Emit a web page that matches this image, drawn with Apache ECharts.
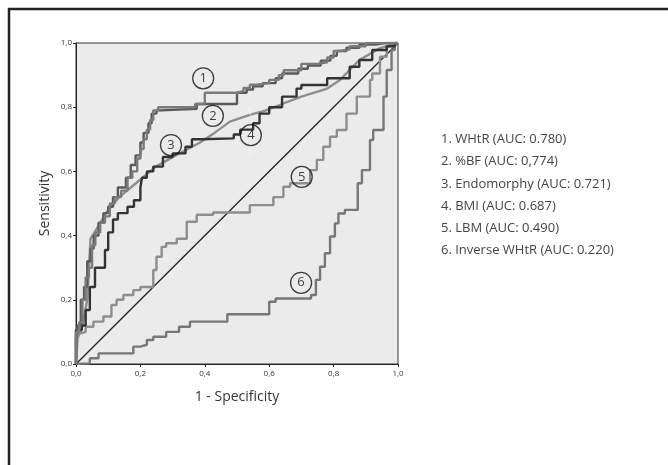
<!DOCTYPE html>
<html>
<head>
<meta charset="utf-8">
<style>
  html, body { margin: 0; padding: 0; background: #fff; }
  #chart { width: 668px; height: 465px; }
</style>
<script src="https://cdn.jsdelivr.net/npm/echarts@6/dist/echarts.min.js"></script>
</head>
<body>
<div id="chart"></div>
<script>
// ROC curves, [1 - specificity, sensitivity]
const whtr = [[0,0],[0.01,0.1],[0.02,0.13],[0.03,0.2],[0.04,0.27],[0.05,0.3],[0.06,0.37],[0.075,0.41],[0.09,0.44],[0.105,0.46],[0.12,0.5],[0.14,0.52],[0.16,0.54],[0.175,0.58],[0.19,0.6],[0.2,0.64],[0.21,0.67],[0.22,0.7],[0.23,0.73],[0.24,0.76],[0.255,0.79],[0.37,0.8],[0.4,0.81],[0.5,0.845],[0.52,0.85],[0.54,0.86],[0.56,0.87],[0.6,0.875],[0.63,0.885],[0.645,0.9],[0.7,0.915],[0.75,0.935],[0.78,0.94],[0.8,0.955],[0.82,0.975],[0.85,0.98],[0.9,0.99],[0.945,1],[1,1]]
const bodyFat = [[0,0],[0.005,0.08],[0.015,0.12],[0.025,0.2],[0.035,0.24],[0.045,0.32],[0.055,0.36],[0.07,0.4],[0.085,0.44],[0.1,0.47],[0.115,0.49],[0.13,0.52],[0.155,0.55],[0.17,0.58],[0.185,0.62],[0.2,0.65],[0.21,0.69],[0.225,0.72],[0.235,0.75],[0.25,0.78],[0.265,0.79],[0.375,0.795],[0.5,0.81],[0.53,0.845],[0.55,0.855],[0.58,0.865],[0.62,0.875],[0.64,0.89],[0.69,0.905],[0.72,0.92],[0.76,0.93],[0.79,0.945],[0.81,0.96],[0.84,0.975],[0.88,0.985],[0.93,0.995],[0.96,1],[1,1]]
const endomorphy = [[0,0],[0.005,0.08],[0.02,0.12],[0.035,0.2],[0.045,0.39],[0.07,0.43],[0.093,0.47],[0.134,0.52],[0.186,0.563],[0.248,0.615],[0.31,0.65],[0.385,0.69],[0.43,0.72],[0.478,0.755],[0.54,0.776],[0.59,0.79],[0.64,0.81],[0.7,0.833],[0.78,0.858],[0.82,0.885],[0.88,0.947],[0.944,0.984],[1,1]]
const bmi = [[0,0],[0.018,0.106],[0.03,0.12],[0.043,0.168],[0.059,0.24],[0.07,0.3],[0.09,0.3],[0.1,0.355],[0.115,0.41],[0.13,0.45],[0.16,0.47],[0.18,0.49],[0.2,0.51],[0.205,0.55],[0.22,0.58],[0.24,0.6],[0.27,0.615],[0.3,0.645],[0.34,0.656],[0.36,0.677],[0.39,0.7],[0.49,0.703],[0.51,0.715],[0.55,0.73],[0.57,0.75],[0.6,0.78],[0.64,0.8],[0.685,0.833],[0.7,0.858],[0.78,0.869],[0.85,0.89],[0.88,0.926],[0.92,0.947],[0.965,0.978],[0.99,0.99],[1,1]]
const lbm = [[0,0],[0.012,0.095],[0.03,0.1],[0.054,0.116],[0.085,0.132],[0.11,0.148],[0.126,0.184],[0.147,0.2],[0.178,0.215],[0.2,0.23],[0.24,0.24],[0.25,0.293],[0.266,0.334],[0.28,0.365],[0.313,0.376],[0.344,0.39],[0.375,0.443],[0.426,0.465],[0.54,0.472],[0.613,0.495],[0.644,0.52],[0.665,0.552],[0.727,0.563],[0.748,0.604],[0.768,0.636],[0.789,0.677],[0.81,0.708],[0.84,0.729],[0.872,0.78],[0.913,0.833],[0.92,0.885],[0.944,0.905],[0.965,0.957],[0.985,0.99],[1,1]]
const inverseWhtr = [[0,0],[0.043,0.002],[0.07,0.018],[0.178,0.033],[0.2,0.054],[0.22,0.06],[0.24,0.075],[0.28,0.085],[0.32,0.1],[0.354,0.116],[0.364,0.132],[0.47,0.132],[0.6,0.155],[0.62,0.194],[0.73,0.204],[0.745,0.215],[0.758,0.262],[0.773,0.303],[0.789,0.345],[0.804,0.397],[0.815,0.438],[0.835,0.469],[0.875,0.48],[0.888,0.563],[0.913,0.604],[0.923,0.698],[0.955,0.729],[0.965,0.833],[0.98,0.916],[0.99,0.978],[1,1]]
const reference = [[0,0],[1,1]]

// numbered markers on the curves
const markers = [[0.395,0.89,'1'],[0.425,0.773,'2'],[0.295,0.682,'3'],[0.543,0.713,'4'],[0.701,0.583,'5'],[0.699,0.253,'6']]
const faintMarks = [[0.54,0.786,'1'],[0.54,0.656,'1']]

const legendLines = [
  '1. WHtR (AUC: 0.780)',
  '2. %BF (AUC: 0,774)',
  '3. Endomorphy (AUC: 0.721)',
  '4. BMI (AUC: 0.687)',
  '5. LBM (AUC: 0.490)',
  '6. Inverse WHtR (AUC: 0.220)'
]
const ticks = [0, 0.2, 0.4, 0.6, 0.8, 1]

const chart = echarts.init(document.getElementById('chart'))

const curve = (name, data, color, width, step) => ({
  name: name,
  type: 'line',
  data: data,
  step: step ? 'start' : false,
  symbol: 'none',
  silent: true,
  lineStyle: { color: color, width: width },
  z: 3
})

const axisCommon = {
  type: 'value',
  min: 0,
  max: 1,
  interval: 0.2,
  splitLine: { show: false },
  axisLine: { show: true, lineStyle: { color: '#222', width: 1 } },
  axisTick: { show: true, length: 3, lineStyle: { color: '#222' } },
  axisLabel: {
    fontSize: 8,
    color: '#333',
    fontFamily: 'Open Sans',
    formatter: v => v.toFixed(1).replace('.', ',')
  },
  nameLocation: 'middle',
  nameTextStyle: { fontSize: 14, color: '#333', fontFamily: 'Open Sans' }
}

const option = {
  backgroundColor: '#fff',
  animation: false,
  grid: {
    left: 76,
    top: 43,
    width: 322,
    height: 321,
    show: true,
    backgroundColor: '#ebebeb',
    borderColor: '#333',
    borderWidth: 1
  },
  xAxis: Object.assign({}, axisCommon, {
    name: '1 - Specificity',
    nameGap: 26,
    axisLabel: Object.assign({}, axisCommon.axisLabel, { margin: 6 })
  }),
  yAxis: Object.assign({}, axisCommon, {
    name: 'Sensitivity',
    nameGap: 24,
    axisLabel: Object.assign({}, axisCommon.axisLabel, { margin: 4 })
  }),
  series: [
    curve('Reference', reference, '#222', 1.3, false),
    curve('Inverse WHtR', inverseWhtr, '#777', 2.4, true),
    curve('LBM', lbm, '#8e8e8e', 2.4, true),
    curve('Endomorphy', endomorphy, '#8e8e8e', 2.4, false),
    curve('BMI', bmi, '#333', 2.4, true),
    curve('%BF', bodyFat, '#5a5a5a', 2.4, true),
    curve('WHtR', whtr, '#7a7a7a', 2.4, true),
    {
      type: 'scatter',
      silent: true,
      data: markers.map(m => ({ value: [m[0], m[1]], label: { formatter: m[2] } })),
      symbol: 'circle',
      symbolSize: 21,
      itemStyle: { color: 'rgba(0,0,0,0)', borderColor: '#111', borderWidth: 1.3 },
      label: { show: true, position: 'inside', fontSize: 13, color: '#111', fontFamily: 'Open Sans' },
      z: 5
    },
    {
      type: 'scatter',
      silent: true,
      data: faintMarks.map(m => ({ value: [m[0], m[1]], label: { formatter: m[2] } })),
      symbolSize: 0,
      label: { show: true, position: 'inside', fontSize: 10, color: '#fafafa', fontFamily: 'Open Sans' },
      z: 4
    }
  ],
  graphic: [
    {
      type: 'rect',
      shape: { x: 9, y: 9, width: 700, height: 500 },
      style: { fill: 'none', stroke: '#222', lineWidth: 2.5 },
      silent: true
    }
  ].concat(legendLines.map((t, i) => ({
    type: 'text',
    left: 441,
    top: 133 + i * 22.2,
    style: { text: t, fontSize: 13, fill: '#444', fontFamily: 'Open Sans' },
    silent: true
  })))
}

chart.setOption(option)
</script>
</body>
</html>
